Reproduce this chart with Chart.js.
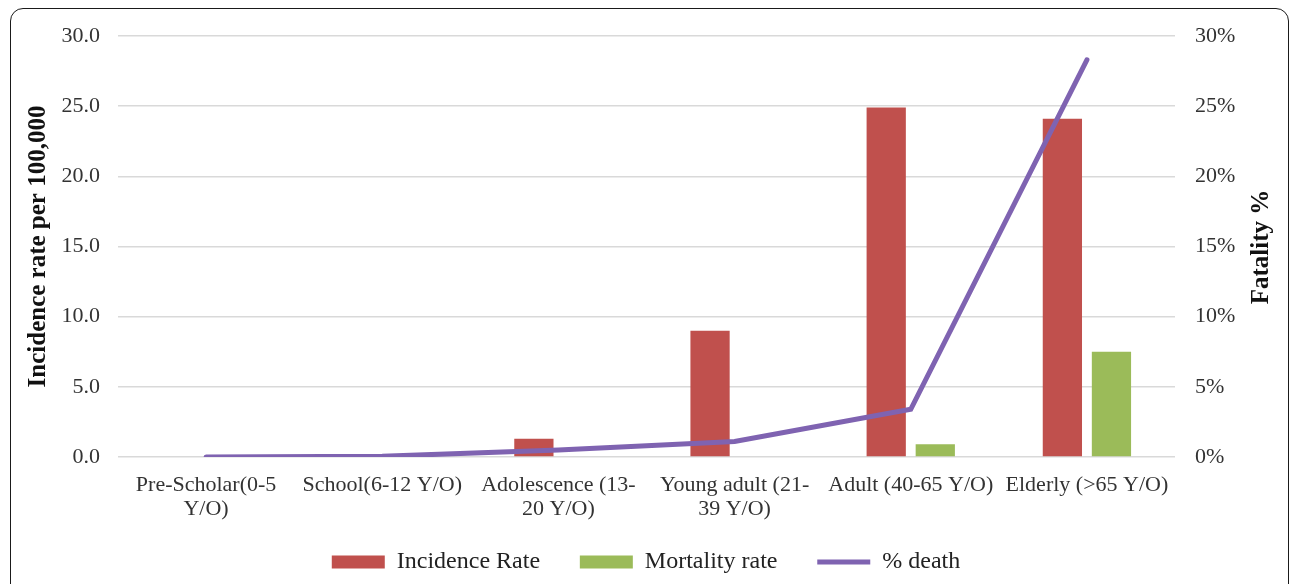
<!DOCTYPE html>
<html>
<head>
<meta charset="utf-8">
<script src="https://cdn.jsdelivr.net/npm/chart.js@4.4.1/dist/chart.umd.min.js"></script>
<style>
  html, body { margin: 0; padding: 0; background: #fff; overflow: hidden; }
  #wrap { position: relative; width: 1292px; height: 584px; }
  #frame { position: absolute; left: 10px; top: 8px; width: 1279px; height: 640px;
           border: 1.8px solid #1a1a1a; border-radius: 13px; box-sizing: border-box; pointer-events: none; }
  canvas { position: absolute; left: 0; top: 0; }
</style>
</head>
<body>
<div id="wrap">
  <canvas id="c" width="1292" height="584"></canvas>
  <div id="frame"></div>
</div>
<script>
const categories = [
  ["Pre-Scholar(0-5", "Y/O)"],
  "School(6-12 Y/O)",
  ["Adolescence (13-", "20 Y/O)"],
  ["Young adult (21-", "39 Y/O)"],
  "Adult (40-65 Y/O)",
  "Elderly (>65 Y/O)"
];
const incidenceRate = [0, 0, 1.3, 9.0, 24.9, 24.1];
const mortalityRate = [0, 0, 0, 0, 0.9, 7.5];
const percentDeath = [0, 0.05, 0.5, 1.1, 3.4, 28.3];
const leftTicks = [0, 5, 10, 15, 20, 25, 30];
const rightTicks = [0, 5, 10, 15, 20, 25, 30];

const SERIF = "'Liberation Serif', 'Times New Roman', serif";
Chart.defaults.font.family = SERIF;
Chart.defaults.color = '#3a3a3a';

const rightTitle = {
  id: 'rightTitle',
  afterDraw(chart) {
    const ctx = chart.ctx;
    ctx.save();
    ctx.translate(1262, 247);
    ctx.rotate(-Math.PI / 2);
    ctx.font = "bold 25px " + SERIF;
    ctx.fillStyle = '#111';
    ctx.textAlign = 'center';
    ctx.textBaseline = 'middle';
    ctx.fillText('Fatality %', 0, 0);
    ctx.restore();
  }
};

new Chart(document.getElementById('c'), {
  type: 'bar',
  data: {
    labels: categories,
    datasets: [
      { label: 'Incidence Rate', data: incidenceRate, backgroundColor: '#c0504d',
        yAxisID: 'y', barPercentage: 0.8, categoryPercentage: 0.557, pointStyle: 'rect', order: 1 },
      { label: 'Mortality rate', data: mortalityRate, backgroundColor: '#9bbb59',
        yAxisID: 'y', barPercentage: 0.8, categoryPercentage: 0.557, pointStyle: 'rect', order: 1 },
      { type: 'line', label: '% death', data: percentDeath, borderColor: '#7f63b1',
        backgroundColor: '#7f63b1', borderWidth: 5, pointRadius: 0, pointHoverRadius: 0,
        tension: 0, yAxisID: 'y2', pointStyle: 'line', order: 0, borderCapStyle: 'round' }
    ]
  },
  options: {
    responsive: false,
    animation: false,
    events: [],
    layout: { padding: { left: 0, right: 0, top: 36, bottom: 0 } },
    scales: {
      x: {
        grid: { display: false },
        border: { display: false },
        ticks: { autoSkip: false, maxRotation: 0, minRotation: 0, padding: 8,
                 font: { size: 22, lineHeight: 1.1 }, color: '#333' },
        afterFit(s) { s.height = 82; }
      },
      y: {
        position: 'left',
        min: 0, max: 30,
        afterBuildTicks(s) { s.ticks = leftTicks.map(v => ({ value: v })); },
        ticks: { padding: 18, font: { size: 22 }, color: '#333',
                 callback: v => Number(v).toFixed(1) },
        grid: { color: '#d9d9d9', lineWidth: 1.6, drawTicks: false },
        border: { display: false },
        title: { display: true, text: 'Incidence rate per 100,000', color: '#111',
                 font: { size: 25, weight: 'bold' }, padding: { top: 24, bottom: 0 } },
        afterFit(s) { s.width = 118; }
      },
      y2: {
        position: 'right',
        min: 0, max: 30,
        afterBuildTicks(s) { s.ticks = rightTicks.map(v => ({ value: v })); },
        ticks: { padding: 20, font: { size: 22 }, color: '#333',
                 callback: v => v + '%' },
        grid: { display: false, drawTicks: false },
        border: { display: false },
        afterFit(s) { s.width = 117; }
      }
    },
    plugins: {
      tooltip: { enabled: false },
      legend: {
        position: 'bottom',
        labels: {
          usePointStyle: true,
          pointStyleWidth: 53,
          boxHeight: 13,
          padding: 11,
          color: '#222',
          font: { size: 24 },
          generateLabels(chart) {
            const items = Chart.defaults.plugins.legend.labels.generateLabels(chart);
            items.sort((a, b) => a.datasetIndex - b.datasetIndex);
            items.forEach((it, i) => {
              if (i < items.length - 1) it.text = it.text + '\u2003\u2009';
            });
            return items;
          }
        }
      }
    }
  },
  plugins: [rightTitle]
});
</script>
</body>
</html>
